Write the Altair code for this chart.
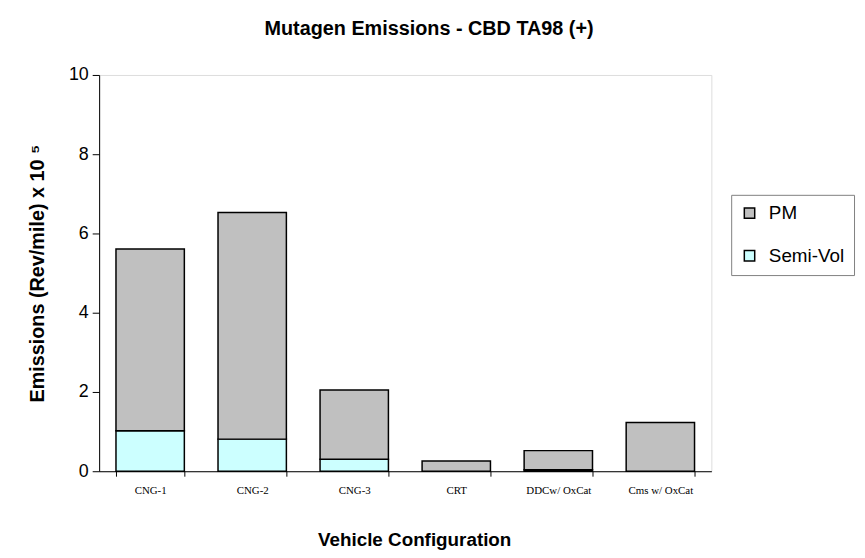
import altair as alt
import pandas as pd

configs = ["CNG-1", "CNG-2", "CNG-3", "CRT", "DDCw/ OxCat", "Cms w/ OxCat"]
semi_vol = [1.02, 0.81, 0.30, 0.0, 0.04, 0.0]
pm = [4.59, 5.72, 1.75, 0.26, 0.48, 1.23]
series = ["PM", "Semi-Vol"]
colors = ["#C0C0C0", "#CCFFFF"]
y_ticks = [0, 2, 4, 6, 8, 10]

rows = []
for c, s, p in zip(configs, semi_vol, pm):
    rows.append({"config": c, "series": "Semi-Vol", "value": s, "order": 0})
    rows.append({"config": c, "series": "PM", "value": p, "order": 1})
df = pd.DataFrame(rows)

chart = alt.Chart(df).mark_bar(stroke="black", strokeWidth=1.5).encode(
    x=alt.X("config:N", sort=configs,
            scale=alt.Scale(paddingInner=0.33, paddingOuter=0.165),
            axis=alt.Axis(title="Vehicle Configuration", labelAngle=0,
                          labelFont="Liberation Serif", labelFontSize=11,
                          labelColor="black", labelPadding=8,
                          tickBand="extent", tickSize=5, tickColor="black",
                          domainColor="black",
                          titleFont="Liberation Sans", titleFontSize=19,
                          titleFontWeight="bold", titleColor="black",
                          titleX=318, titleY=75, titleBaseline="alphabetic")),
    y=alt.Y("value:Q", stack="zero",
            scale=alt.Scale(domain=[0, 10], nice=False),
            axis=alt.Axis(title="Emissions (Rev/mile) x 10 ⁵", values=y_ticks,
                          grid=False, labelFont="Liberation Sans",
                          labelFontSize=18, labelColor="black", labelPadding=4,
                          tickSize=7, tickColor="black", domainColor="black",
                          titleFont="Liberation Sans", titleFontSize=20,
                          titleFontWeight="bold", titleColor="black",
                          titleX=-62, titleY=200, titleBaseline="middle")),
    color=alt.Color("series:N",
                    scale=alt.Scale(domain=series, range=colors),
                    legend=alt.Legend(title=None, orient="none",
                                      legendX=638, legendY=121,
                                      symbolType="square", symbolSize=110,
                                      symbolStrokeColor="black",
                                      symbolStrokeWidth=1.5,
                                      labelFont="Liberation Sans",
                                      labelFontSize=19, labelColor="black",
                                      labelOffset=10,
                                      rowPadding=23, padding=9,
                                      strokeColor="#808080", fillColor="white",
                                      cornerRadius=0)),
    order=alt.Order("order:Q"),
).properties(
    width=618,
    height=400,
    title=alt.TitleParams("Mutagen Emissions - CBD TA98 (+)",
                          font="Liberation Sans", fontSize=20,
                          fontWeight="bold", color="black",
                          anchor="middle", dx=24, offset=27),
    autosize=alt.AutoSizeParams(type="none"),
    padding={"left": 92, "top": 65, "right": 147, "bottom": 85},
).configure_view(
    stroke="#808080", strokeWidth=1
).configure(background="white")

chart.save("out.html", embed_options={"renderer": "svg", "actions": False})
